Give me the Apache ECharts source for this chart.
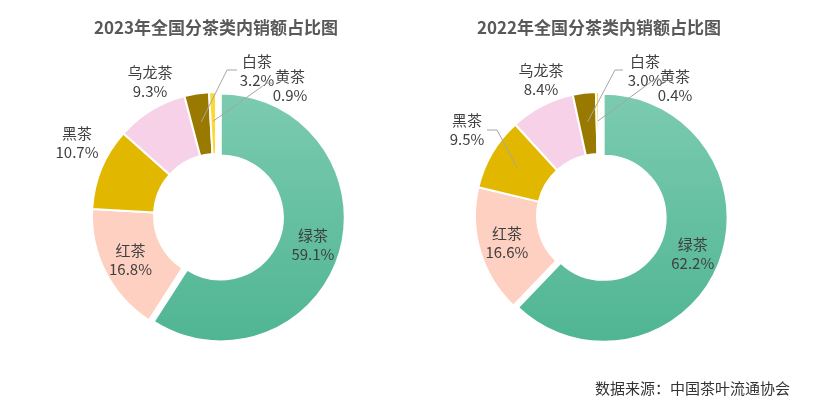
<!DOCTYPE html>
<html>
<head>
<meta charset="utf-8">
<script src="https://cdn.jsdelivr.net/npm/echarts@6/dist/echarts.min.js"></script>
<style>
html,body{margin:0;padding:0;background:#fff;}
#main{width:825px;height:402px;}
</style>
</head>
<body>
<div id="main"></div>
<script>
// ---- data ----
const categories = ['绿茶', '红茶', '黑茶', '乌龙茶', '白茶', '黄茶'];
const share2023 = [59.1, 16.8, 10.7, 9.3, 3.2, 0.9];
const share2022 = [62.2, 16.6, 9.5, 8.4, 3.0, 0.4];
const chartTitles = ['2023年全国分茶类内销额占比图', '2022年全国分茶类内销额占比图'];
const sourceNote = '数据来源：中国茶叶流通协会';

// ---- styling / layout ----
const W = 825, H = 402;
const centers = [[216, 216], [599, 216]];
const R_IN = 62, R_OUT = 124;
const sliceColors = [
  null, '#fed0c1', '#e2b700', '#f6d1e7', '#9a7900', '#fdd931'
];
const greenGrad = new echarts.graphic.LinearGradient(0, 0, 0, 1, [
  { offset: 0, color: '#7ccbb1' }, { offset: 1, color: '#4fb592' }
]);
const insideIdx = [0, 1];
// label centres relative to pie centre
const labelPos = [
  { 2: [-139, -73], 3: [-66, -134], 4: [41, -145], 5: [74, -130] },
  { 2: [-132, -86], 3: [-58, -136], 4: [46, -145], 5: [76, -130] }
];
// leader line bend/end points relative to pie centre
const linePts = [
  { 4: [[11, -146], [21, -146]], 5: [[51, -133], [58, -133]] },
  { 2: [[-102, -86], [-112, -86]], 4: [[16, -146], [24, -146]], 5: [[56, -137], [61, -137]] }
];
const LINE_R = 95;

function midAngles(vals) {
  const tot = vals.reduce((a, b) => a + b, 0);
  let acc = 0;
  return vals.map(v => { const m = acc + v / 2; acc += v; return m / tot * 2 * Math.PI; });
}
const mids = [midAngles(share2023), midAngles(share2022)];

function buildData(vals, si) {
  return categories.map((name, i) => {
    const inside = insideIdx.includes(i);
    return {
      name, value: vals[i],
      selected: i === 0,
      itemStyle: { color: i === 0 ? greenGrad : sliceColors[i] },
      label: inside ? { position: 'inside' } : { position: 'outside' },
      labelLine: { show: false }
    };
  });
}

function makeSeries(vals, si) {
  return {
    type: 'pie',
    center: centers[si],
    radius: [R_IN, R_OUT],
    startAngle: 90,
    clockwise: true,
    selectedMode: 'single',
    selectedOffset: 5,
    avoidLabelOverlap: false,
    silent: true,
    itemStyle: { borderColor: '#fff', borderWidth: 2 },
    select: { itemStyle: { borderColor: '#fff', borderWidth: 2 } },
    emphasis: { disabled: true },
    label: {
      show: true,
      formatter: p => p.name + '\n' + p.value.toFixed(1) + '%',
      color: '#404040',
      fontSize: 15,
      lineHeight: 19,
      fontFamily: 'Noto Sans CJK SC',
      align: 'center'
    },
    labelLine: { show: false },
    labelLayout: function (p) {
      const c = centers[p.seriesIndex];
      const pos = labelPos[p.seriesIndex][p.dataIndex];
      if (!pos) return {};
      return { x: c[0] + pos[0], y: c[1] + pos[1], align: 'center', verticalAlign: 'middle' };
    },
    data: buildData(vals, si)
  };
}

// leader lines from inside each small slice to its label
const leaderLines = [];
linePts.forEach((m, si) => {
  const c = centers[si];
  Object.keys(m).forEach(k => {
    const i = +k, a = mids[si][i], lp = m[k];
    leaderLines.push({
      type: 'polyline', z: 100, silent: true,
      shape: { points: [
        [c[0] + LINE_R * Math.sin(a), c[1] - LINE_R * Math.cos(a)],
        [c[0] + lp[0][0], c[1] + lp[0][1]],
        [c[0] + lp[1][0], c[1] + lp[1][1]]
      ] },
      style: { stroke: '#a6a6a6', lineWidth: 1, fill: null }
    });
  });
});

const chart = echarts.init(document.getElementById('main'), null, { renderer: 'canvas', width: W, height: H });
chart.setOption({
  animation: false,
  backgroundColor: '#fff',
  title: [
    { text: chartTitles[0], left: centers[0][0], textAlign: 'center', top: 18, padding: 0,
      textStyle: { fontSize: 17, fontWeight: 'bold', color: '#595959', fontFamily: 'Noto Sans CJK SC', lineHeight: 20 } },
    { text: chartTitles[1], left: centers[1][0], textAlign: 'center', top: 18, padding: 0,
      textStyle: { fontSize: 17, fontWeight: 'bold', color: '#595959', fontFamily: 'Noto Sans CJK SC', lineHeight: 20 } },
    { text: sourceNote, right: 35, top: 379, padding: 0,
      textStyle: { fontSize: 15, fontWeight: 'normal', color: '#333', fontFamily: 'Noto Sans CJK SC', lineHeight: 18 } }
  ],
  graphic: leaderLines,
  series: [makeSeries(share2023, 0), makeSeries(share2022, 1)]
});
</script>
</body>
</html>
